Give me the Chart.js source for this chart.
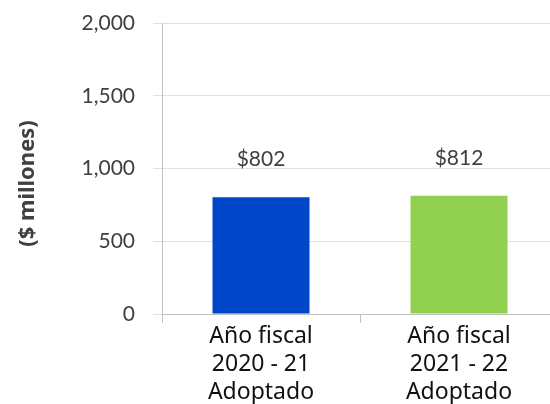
<!DOCTYPE html>
<html>
<head>
<meta charset="utf-8">
<script src="https://cdn.jsdelivr.net/npm/chart.js@4"></script>
<style>
  html, body { margin: 0; padding: 0; background: #fff; overflow: hidden; }
  #wrap { width: 560px; height: 404px; }
</style>
</head>
<body>
<div id="wrap"><canvas id="myChart" width="560" height="404"></canvas></div>
<script>
let categories = [['Año fiscal', '2020 - 21', 'Adoptado'], ['Año fiscal', '2021 - 22', 'Adoptado']];
let values = [802, 812];
let barColors = ['#0046c8', '#92d050'];
let valueLabels = ['$802', '$812'];
let yTicks = [0, 500, 1000, 1500, 2000];
let yTitle = '($ millones)';

// draws the $ labels above each bar, and the y title (sits a bit lower than centre)
let barLabels = {
    id: 'barLabels',
    afterDatasetsDraw(chart) {
        const ctx = chart.ctx;
        const meta = chart.getDatasetMeta(0);
        ctx.save();
        ctx.font = '21px Lato';
        ctx.fillStyle = '#404040';
        ctx.textAlign = 'center';
        ctx.textBaseline = 'alphabetic';
        meta.data.forEach((bar, i) => {
            ctx.fillText(valueLabels[i], bar.x, bar.y - 31);
        });

        const area = chart.chartArea;
        ctx.translate(chart.scales.y.left + 28, (area.top + area.bottom) / 2 + 15);
        ctx.rotate(-Math.PI / 2);
        ctx.font = 'bold 22px "Noto Sans"';
        ctx.textBaseline = 'middle';
        ctx.fillText(yTitle, 0, 0);
        ctx.restore();
    }
};

const ctx = document.getElementById('myChart');

new Chart(ctx, {
    type: 'bar',
    data: {
        labels: categories,
        datasets: [{
            data: values,
            backgroundColor: barColors,
            barPercentage: 0.49,
            categoryPercentage: 1
        }]
    },
    options: {
        responsive: false,
        animation: false,
        layout: { padding: { top: 23, right: 2, left: 0, bottom: 0 } },
        plugins: { legend: { display: false }, tooltip: { enabled: false } },
        scales: {
            x: {
                offset: true,
                grid: { offset: true, drawOnChartArea: false, color: '#c0c0c0', tickLength: 9 },
                border: { color: '#c0c0c0' },
                ticks: { color: '#111', font: { family: 'Noto Sans', size: 23 }, padding: 0, maxRotation: 0 },
                afterFit(scale) {
                    scale.height = 90;
                    scale.paddingTop = 0;
                    scale.paddingBottom = 0;
                }
            },
            y: {
                min: 0,
                max: 2000,
                afterBuildTicks(scale) { scale.ticks = yTicks.map(v => ({ value: v })); },
                grid: { color: '#e0e0e0', tickLength: 9 },
                border: { color: '#c0c0c0' },
                ticks: {
                    color: '#404040',
                    font: { family: 'Lato', size: 21 },
                    padding: 18,
                    callback: v => v.toLocaleString('en-US')
                },
                afterFit(scale) {
                    scale.width = 162;
                    scale.paddingTop = 0;
                    scale.paddingBottom = 0;
                }
            }
        }
    },
    plugins: [barLabels]
});
</script>
</body>
</html>
